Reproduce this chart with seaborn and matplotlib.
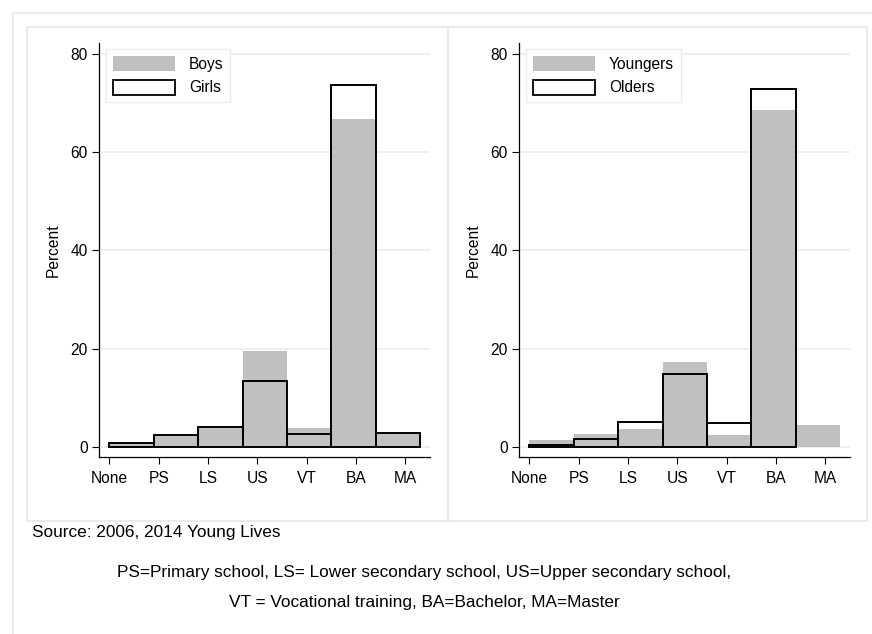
import numpy as np
import pandas as pd
import matplotlib
matplotlib.use("Agg")
import matplotlib.pyplot as plt
from matplotlib.patches import Patch, Rectangle
import seaborn as sns

# 교육 수준별 비율 (%)
levels = ["None", "PS", "LS", "US", "VT", "BA", "MA"]
boys = [0.7, 2.3, 4.1, 19.5, 3.9, 66.8, 2.8]
girls = [0.9, 2.4, 4.1, 13.5, 2.7, 73.6, 2.9]
youngers = [1.4, 2.7, 3.7, 17.3, 2.4, 68.6, 4.4]
olders = [0.4, 1.6, 5.1, 14.9, 4.9, 72.9, 0.0]

yticks = [0, 20, 40, 60, 80]
source_text = "Source: 2006, 2014 Young Lives"
note_lines = ["PS=Primary school, LS= Lower secondary school, US=Upper secondary school,",
              "VT = Vocational training, BA=Bachelor, MA=Master"]

sns.set_style("white")
plt.rcParams['font.family'] = ['Liberation Sans', 'DejaVu Sans']
plt.rcParams['text.color'] = 'black'
plt.rcParams['axes.labelcolor'] = 'black'
plt.rcParams['xtick.color'] = 'black'
plt.rcParams['ytick.color'] = 'black'

W, H = 872, 634
fig = plt.figure(figsize=(W / 100, H / 100), dpi=100)
fig.patch.set_facecolor("white")

frame_col = "#e3ebed"
grid_col = "#e8eff1"
fill_col = "#c0c0c0"
fs = 11.2


def fbox(x0, y0, x1, y1):
    # 픽셀 좌표 -> figure 비율
    return [x0 / W, 1 - y1 / H, (x1 - x0) / W, (y1 - y0) / H]


# 바깥 테두리와 패널 테두리
for (x0, y0, x1, y1) in [(13, 13, 880, 650), (27, 27, 448, 521), (448, 27, 867, 521)]:
    b = fbox(x0, y0, x1, y1)
    fig.patches.append(Rectangle((b[0], b[1]), b[2], b[3], transform=fig.transFigure,
                                 fill=False, edgecolor=frame_col, linewidth=1.3, zorder=0))


def panel(ax_rect, first, second, lab1, lab2):
    ax = fig.add_axes(fbox(*ax_rect))
    df = pd.DataFrame({"level": levels, "a": first, "b": second})
    sns.barplot(data=df, x="level", y="a", order=levels, color=fill_col,
                saturation=1, width=1, linewidth=0, ax=ax)
    n_before = len(ax.patches)
    sns.barplot(data=df, x="level", y="b", order=levels, color="black", fill=False,
                width=1, linewidth=1.4, ax=ax)
    for p in ax.patches[n_before:]:
        p.set_facecolor("none")
        p.set_edgecolor("black")
        if p.get_height() == 0:
            p.set_visible(False)

    ax.set_xlim(-0.735, 6.725)
    ax.set_ylim(-2.04, 82.24)
    ax.set_xticks([-0.5 + k * 1.111 for k in range(len(levels))])
    ax.set_xticklabels(levels)
    ax.set_yticks(yticks)
    ax.set_yticklabels([str(v) for v in yticks])
    ax.tick_params(axis="both", labelsize=fs, length=5, width=0.8, color="black",
                   labelcolor="black", bottom=True, left=True)
    ax.tick_params(axis="x", pad=5)
    ax.tick_params(axis="y", pad=3)
    ax.yaxis.grid(True, color=grid_col, linewidth=1.2)
    ax.xaxis.grid(False)
    ax.set_axisbelow(True)
    for s in ["top", "right"]:
        ax.spines[s].set_visible(False)
    for s in ["left", "bottom"]:
        ax.spines[s].set_color("black")
        ax.spines[s].set_linewidth(0.9)
    ax.set_xlabel("")
    ax.set_ylabel("Percent", fontsize=fs, labelpad=7, color="black")

    handles = [Patch(facecolor=fill_col, edgecolor="none", label=lab1),
               Patch(facecolor="white", edgecolor="black", linewidth=1.3, label=lab2)]
    leg = ax.legend(handles=handles, loc="upper left", bbox_to_anchor=(0.02, 0.985),
                    fontsize=fs, frameon=True, fancybox=False, handlelength=4.0,
                    handleheight=1.1, handletextpad=0.9, labelspacing=0.5,
                    borderpad=0.45, borderaxespad=0)
    leg.get_frame().set_edgecolor(frame_col)
    leg.get_frame().set_linewidth(1.0)
    return ax


panel((99, 43, 430, 457), boys, girls, "Boys", "Girls")
panel((519, 43, 850, 457), youngers, olders, "Youngers", "Olders")

fig.text(32 / W, 1 - 533 / H, source_text, ha="left", va="center", fontsize=12.4)
fig.text(424 / W, 1 - 573 / H, note_lines[0], ha="center", va="center", fontsize=12.4)
fig.text(424 / W, 1 - 602 / H, note_lines[1], ha="center", va="center", fontsize=12.4)

fig.savefig("out.png", dpi=100, facecolor="white")
